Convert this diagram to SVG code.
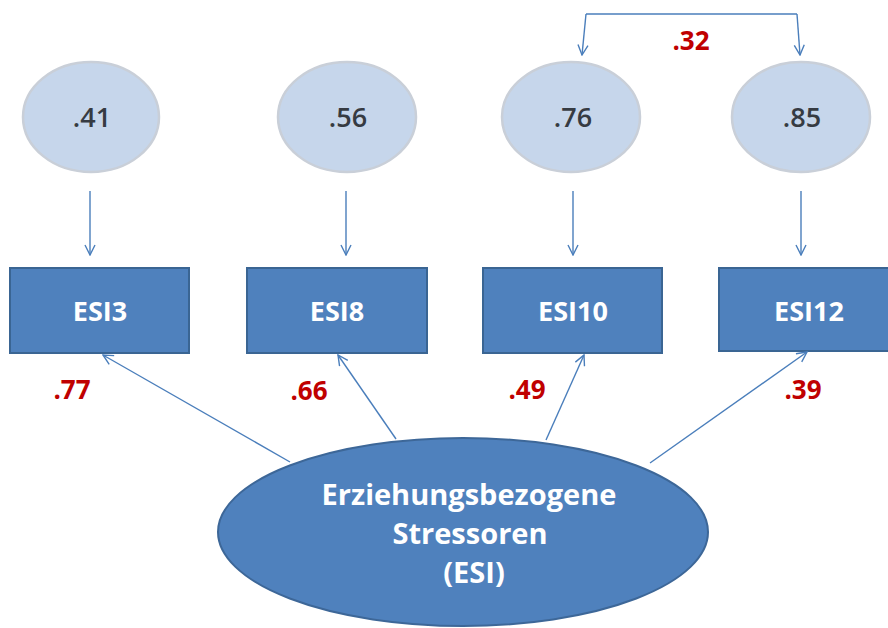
<svg xmlns="http://www.w3.org/2000/svg" width="888" height="628" viewBox="0 0 888 628">
  <defs>
    <marker id="arrow" viewBox="0 0 12 12" refX="11" refY="6" markerWidth="12" markerHeight="12" markerUnits="userSpaceOnUse" orient="auto">
      <path d="M1,1 L11,6 L1,11" fill="none" stroke="#4a7ebb" stroke-width="1.4"/>
    </marker>
    <style>
      .err { fill: #c6d6eb; stroke: #c9cfd8; stroke-width: 2.5; }
      .err-val { font-family: "Open Sans", "Liberation Sans", sans-serif; font-weight: 600; font-size: 27px; fill: #363b42; text-anchor: middle; }
      .item { fill: #4f81bd; stroke: #3a6593; stroke-width: 2; }
      .item-label { font-family: "Open Sans", "Liberation Sans", sans-serif; font-weight: bold; font-size: 27px; fill: #ffffff; text-anchor: middle; }
      .factor { fill: #4f81bd; stroke: #3d6798; stroke-width: 2; }
      .factor-label { font-family: "Open Sans", "Liberation Sans", sans-serif; font-weight: bold; font-size: 29px; fill: #ffffff; text-anchor: middle; }
      .coef { font-family: "Open Sans", "Liberation Sans", sans-serif; font-weight: bold; font-size: 26px; fill: #c00000; text-anchor: middle; }
      .edge { fill: none; stroke: #4a7ebb; stroke-width: 1.4; marker-end: url(#arrow); }
    </style>
  </defs>

  <rect width="888" height="628" fill="#ffffff"/>

  <!-- error terms -->
  <g id="e3">
    <ellipse class="err" cx="91" cy="117" rx="68" ry="55"/>
    <text class="err-val" x="92" y="127">.41</text>
  </g>
  <g id="e8">
    <ellipse class="err" cx="347" cy="117" rx="69" ry="55"/>
    <text class="err-val" x="348" y="127">.56</text>
  </g>
  <g id="e10">
    <ellipse class="err" cx="571" cy="117" rx="69" ry="55"/>
    <text class="err-val" x="573" y="127">.76</text>
  </g>
  <g id="e12">
    <ellipse class="err" cx="801" cy="117" rx="69" ry="55"/>
    <text class="err-val" x="802" y="127">.85</text>
  </g>

  <!-- observed items -->
  <g id="esi3">
    <rect class="item" x="10" y="268" width="179" height="85"/>
    <text class="item-label" x="100" y="321">ESI3</text>
  </g>
  <g id="esi8">
    <rect class="item" x="247" y="268" width="180" height="85"/>
    <text class="item-label" x="337" y="321">ESI8</text>
  </g>
  <g id="esi10">
    <rect class="item" x="483" y="268" width="179" height="85"/>
    <text class="item-label" x="573" y="321">ESI10</text>
  </g>
  <g id="esi12">
    <rect class="item" x="719" y="268" width="182" height="83"/>
    <text class="item-label" x="809" y="321">ESI12</text>
  </g>

  <!-- latent factor -->
  <g id="esi">
    <ellipse class="factor" cx="463" cy="532" rx="245" ry="94"/>
    <text class="factor-label" x="469" y="505">Erziehungsbezogene</text>
    <text class="factor-label" x="470" y="544">Stressoren</text>
    <text class="factor-label" x="474" y="583">(ESI)</text>
  </g>

  <!-- connectors -->
  <g id="connectors">
    <line class="edge" x1="90" y1="191" x2="90" y2="255"/>
    <line class="edge" x1="346" y1="191" x2="346" y2="255"/>
    <line class="edge" x1="573" y1="191" x2="573" y2="255"/>
    <line class="edge" x1="801" y1="191" x2="801" y2="255"/>

    <line class="edge" x1="290" y1="462" x2="103" y2="355"/>
    <line class="edge" x1="396" y1="439" x2="338" y2="355"/>
    <line class="edge" x1="546" y1="440" x2="584" y2="355"/>
    <line class="edge" x1="650" y1="463" x2="807" y2="352"/>

    <path class="edge" d="M586,14 L797,14" style="marker-end:none"/>
    <path class="edge" d="M586,14 L582,55"/>
    <path class="edge" d="M797,14 L800,55"/>
  </g>

  <!-- coefficients -->
  <g id="coefficients">
    <text class="coef" x="72" y="399">.77</text>
    <text class="coef" x="309" y="400">.66</text>
    <text class="coef" x="527" y="399">.49</text>
    <text class="coef" x="803" y="399">.39</text>
    <text class="coef" x="691" y="50">.32</text>
  </g>
</svg>
